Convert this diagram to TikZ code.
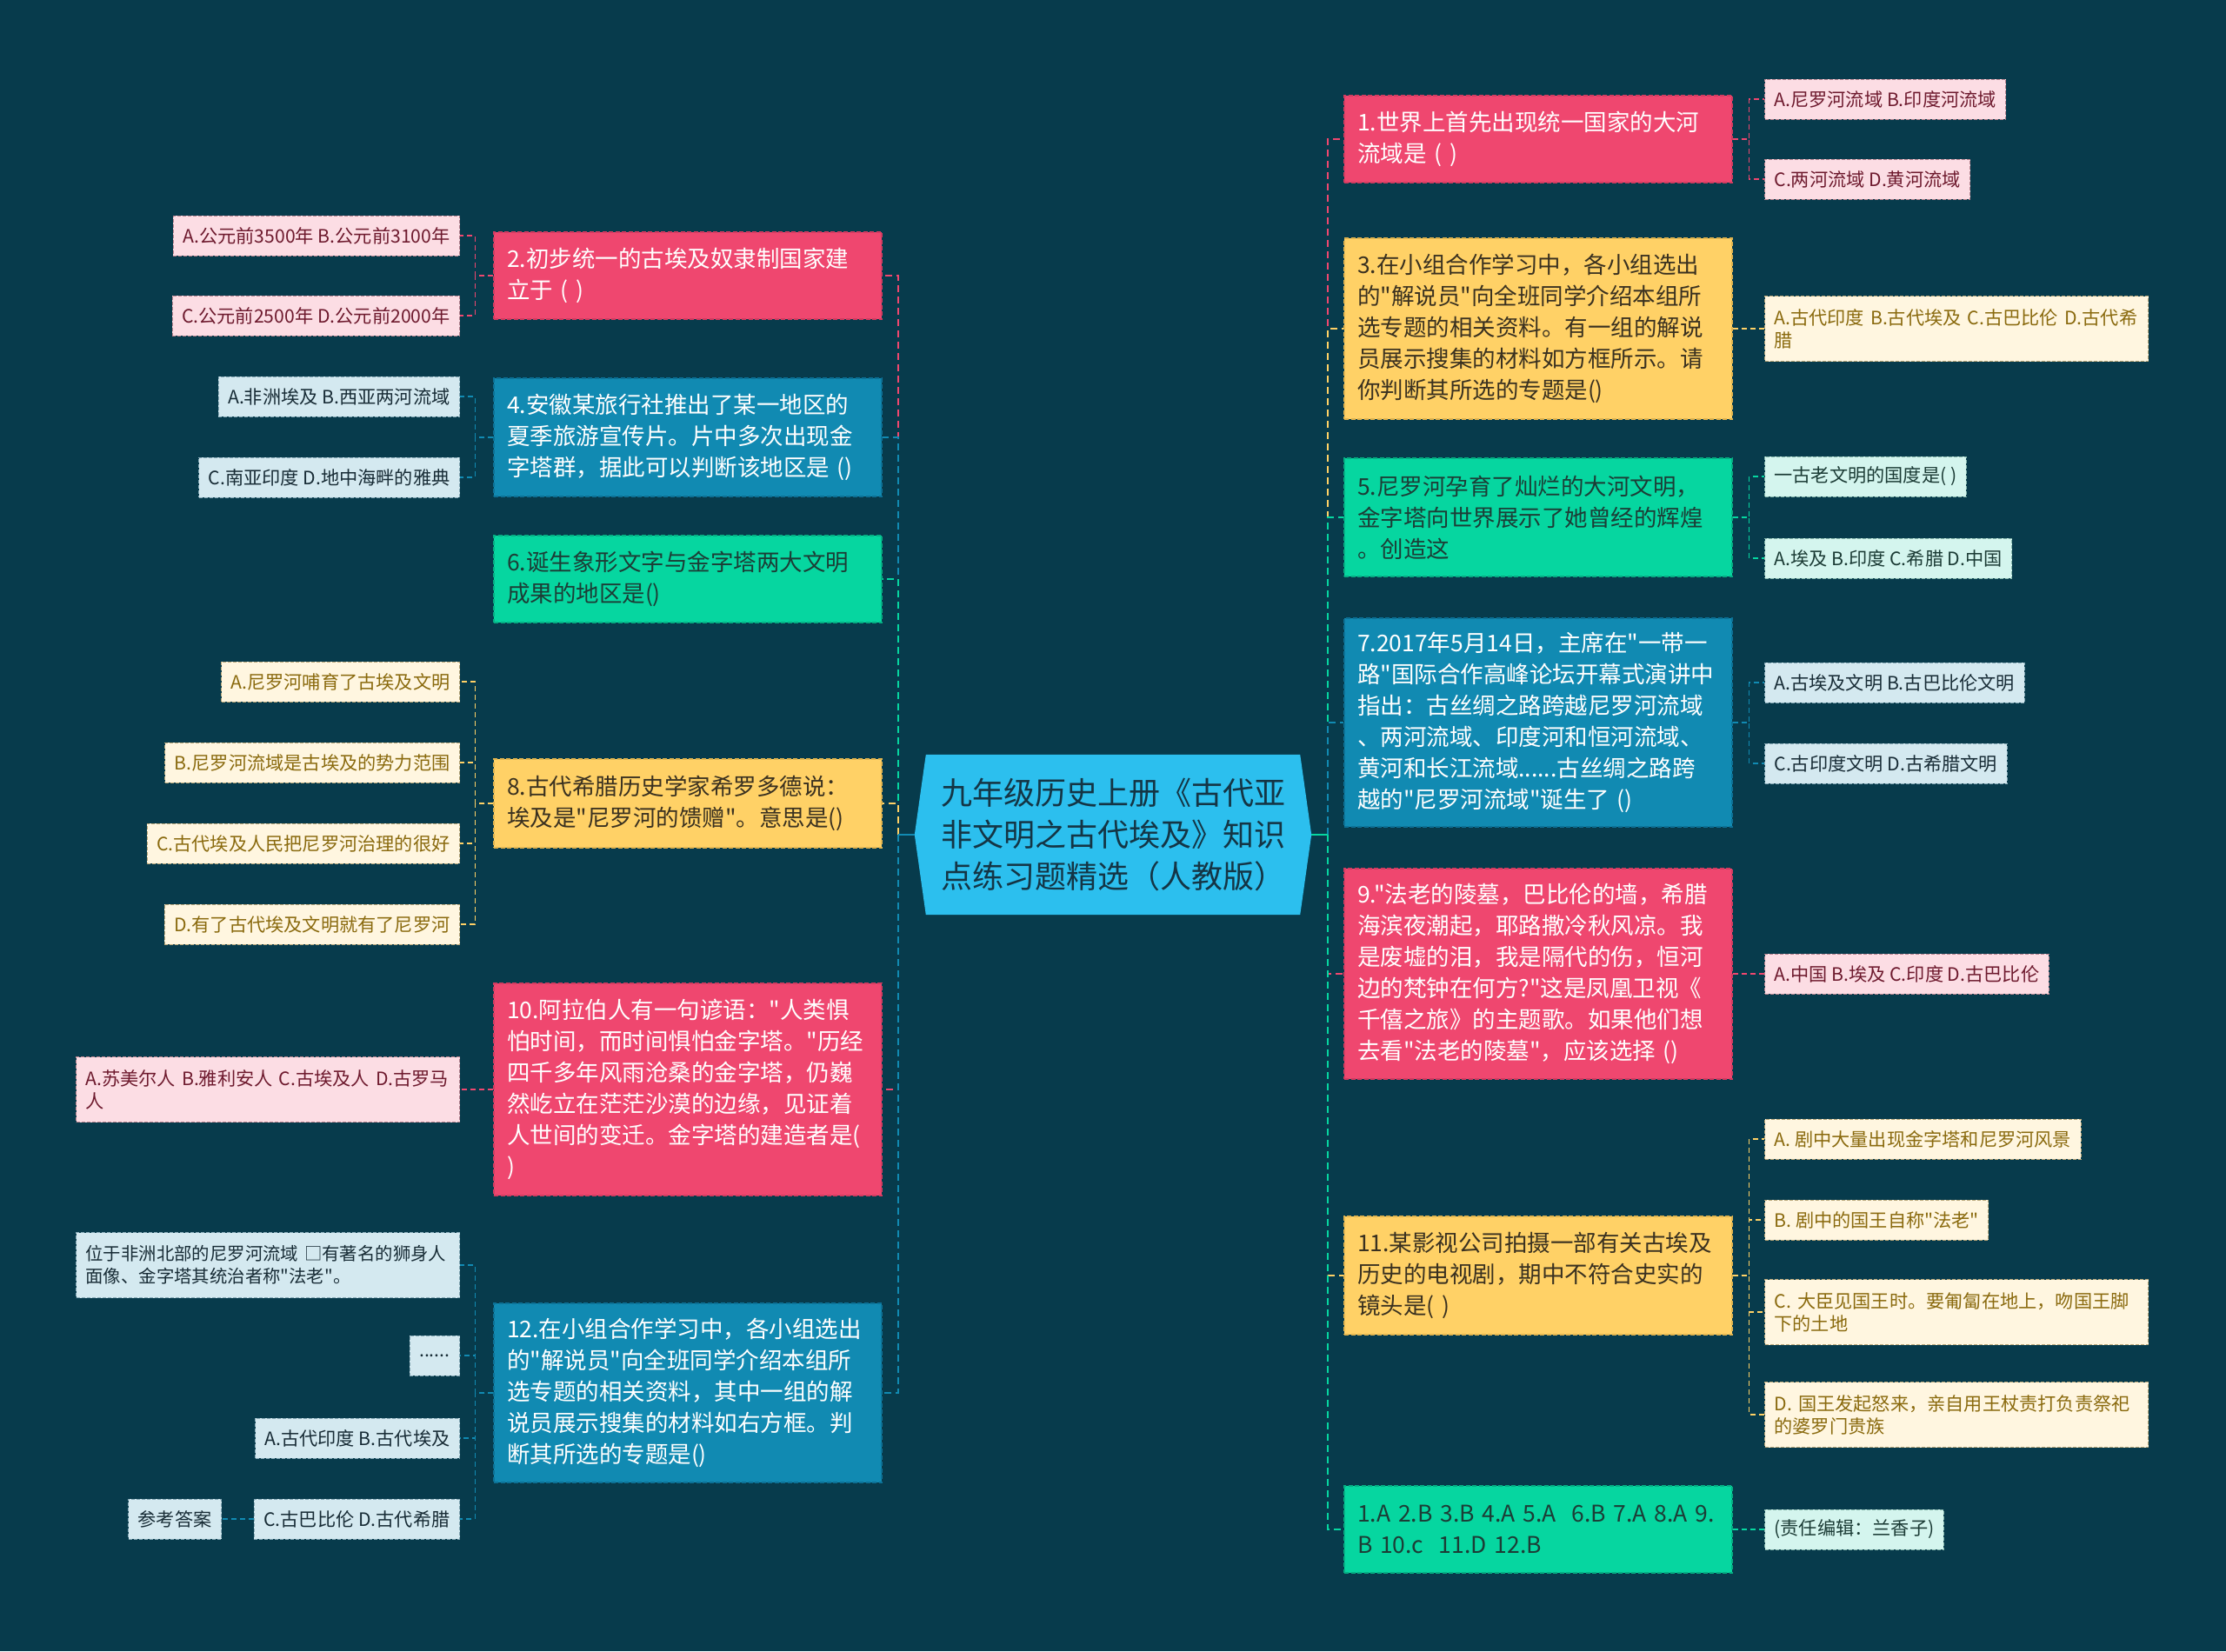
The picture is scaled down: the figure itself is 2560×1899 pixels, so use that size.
\documentclass[tikz,border=0pt]{standalone}
\usepackage{fontspec}
\usepackage{tikz}
\newfontfamily\cjk{Noto Sans CJK SC}
\pgfdeclarelayer{bglayer}
\pgfdeclarelayer{edgelayer}
\pgfdeclarelayer{nodelayer}
\pgfsetlayers{bglayer,edgelayer,nodelayer,main}
\definecolor{bgc}{HTML}{073B4C}
\definecolor{pinkc}{HTML}{EF476F}
\definecolor{pinkd}{HTML}{D23B60}
\definecolor{yellowc}{HTML}{FFD166}
\definecolor{yellowd}{HTML}{E0B44F}
\definecolor{yellowt}{HTML}{3A3120}
\definecolor{greenc}{HTML}{06D6A0}
\definecolor{greend}{HTML}{05AE83}
\definecolor{greent}{HTML}{1C3D36}
\definecolor{bluec}{HTML}{118AB2}
\definecolor{blued}{HTML}{0C7196}
\definecolor{rootc}{HTML}{2CBFEE}
\definecolor{roott}{HTML}{143545}
\definecolor{pinkf}{HTML}{FCDDE4}
\definecolor{pinkb}{HTML}{B98490}
\definecolor{pinkt}{HTML}{6E1A2E}
\definecolor{creamf}{HTML}{FFF6E0}
\definecolor{creamb}{HTML}{B8A678}
\definecolor{creamt}{HTML}{8A6A0E}
\definecolor{mintf}{HTML}{D4F5EE}
\definecolor{mintb}{HTML}{84B5AA}
\definecolor{mintt}{HTML}{1B3B35}
\definecolor{skyf}{HTML}{D4E9F0}
\definecolor{skyb}{HTML}{86A9B6}
\definecolor{skyt}{HTML}{182C36}
\tikzstyle{root}=[rectangle, minimum width=456pt, minimum height=184pt, text width=400pt, align=center, inner sep=0pt, text=roott, font=\cjk\fontsize{36}{48}\selectfont]
\tikzstyle{qbox}=[rectangle, inner xsep=15pt, inner ysep=0pt, text width=416pt, align=left, line width=1.2pt, dash pattern=on 5pt off 2.5pt, font=\cjk\fontsize{26.5}{36}\selectfont]
\tikzstyle{pinkq}=[qbox, fill=pinkc, draw=pinkd, text=white]
\tikzstyle{yellowq}=[qbox, fill=yellowc, draw=yellowd, text=yellowt]
\tikzstyle{greenq}=[qbox, fill=greenc, draw=greend, text=greent]
\tikzstyle{blueq}=[qbox, fill=bluec, draw=blued, text=white]
\tikzstyle{leaf}=[rectangle, inner xsep=11pt, inner ysep=0pt, minimum height=46pt, line width=1pt, dash pattern=on 4pt off 2pt, font=\cjk\fontsize{21.2}{26}\selectfont]
\tikzstyle{wide}=[text width=419pt, align=left, minimum height=75pt]
\tikzstyle{pinkl}=[leaf, fill=pinkf, draw=pinkb, text=pinkt]
\tikzstyle{creaml}=[leaf, fill=creamf, draw=creamb, text=creamt]
\tikzstyle{mintl}=[leaf, fill=mintf, draw=mintb, text=mintt]
\tikzstyle{skyl}=[leaf, fill=skyf, draw=skyb, text=skyt]
\tikzstyle{stem}=[line width=2.5pt]
\tikzstyle{trunk}=[line width=2.5pt, dash pattern=on 8pt off 5pt]
\tikzstyle{twig}=[line width=1.6pt, dash pattern=on 6pt off 4pt]

\begin{document}
\begin{tikzpicture}[x=1pt, y=-1pt]
	\useasboundingbox (0,0) rectangle (2560,1899);
	\begin{pgfonlayer}{nodelayer}
		\node [style=root] (0) at (1280,960) {九年级历史上册《古代亚\\非文明之古代埃及》知识\\点练习题精选（人教版）};
		\coordinate (lhub) at (1033,960);
		\coordinate (rhub) at (1527,960);
		% right questions
		\node [style=pinkq, minimum height=100] (1) at (1769,160) {1.世界上首先出现统一国家的大河\\流域是 ( )};
		\node [style=yellowq, minimum height=208] (3) at (1769,378) {3.在小组合作学习中，各小组选出\\的"解说员"向全班同学介绍本组所\\选专题的相关资料。有一组的解说\\员展示搜集的材料如方框所示。请\\你判断其所选的专题是()};
		\node [style=greenq, minimum height=136] (5) at (1769,595) {5.尼罗河孕育了灿烂的大河文明，\\金字塔向世界展示了她曾经的辉煌\\。创造这};
		\node [style=blueq, minimum height=240] (7) at (1769,831) {7.2017年5月14日，主席在"一带一\\路"国际合作高峰论坛开幕式演讲中\\指出：古丝绸之路跨越尼罗河流域\\、两河流域、印度河和恒河流域、\\黄河和长江流域......古丝绸之路跨\\越的"尼罗河流域"诞生了 ()};
		\node [style=pinkq, minimum height=242] (9) at (1769,1120) {9."法老的陵墓，巴比伦的墙，希腊\\海滨夜潮起，耶路撒冷秋风凉。我\\是废墟的泪，我是隔代的伤，恒河\\边的梵钟在何方?"这是凤凰卫视《\\千僖之旅》的主题歌。如果他们想\\去看"法老的陵墓"，应该选择 ()};
		\node [style=yellowq, minimum height=136] (11) at (1769,1467) {11.某影视公司拍摄一部有关古埃及\\历史的电视剧，期中不符合史实的\\镜头是( )};
		\node [style=greenq, minimum height=100] (13) at (1769,1759) {1.A 2.B 3.B 4.A 5.A~ 6.B 7.A 8.A 9.\\B 10.c~ 11.D 12.B};
		% left questions
		\node [style=pinkq, minimum height=100] (2) at (791,317) {2.初步统一的古埃及奴隶制国家建\\立于 ( )};
		\node [style=blueq, minimum height=136] (4) at (791,503) {4.安徽某旅行社推出了某一地区的\\夏季旅游宣传片。片中多次出现金\\字塔群，据此可以判断该地区是 ()};
		\node [style=greenq, minimum height=100] (6) at (791,666) {6.诞生象形文字与金字塔两大文明\\成果的地区是()};
		\node [style=yellowq, minimum height=102] (8) at (791,924) {8.古代希腊历史学家希罗多德说：\\埃及是"尼罗河的馈赠"。意思是()};
		\node [style=pinkq, minimum height=244] (10) at (791,1253) {10.阿拉伯人有一句谚语："人类惧\\怕时间，而时间惧怕金字塔。"历经\\四千多年风雨沧桑的金字塔，仍巍\\然屹立在茫茫沙漠的边缘，见证着\\人世间的变迁。金字塔的建造者是(\\)};
		\node [style=blueq, minimum height=206] (12) at (791,1602) {12.在小组合作学习中，各小组选出\\的"解说员"向全班同学介绍本组所\\选专题的相关资料，其中一组的解\\说员展示搜集的材料如右方框。判\\断其所选的专题是()};
		% right answers
		\node [style=pinkl, anchor=west] (1a) at (2029,114) {A.尼罗河流域 B.印度河流域};
		\node [style=pinkl, anchor=west] (1b) at (2029,206) {C.两河流域 D.黄河流域};
		\node [style=creaml, style=wide, anchor=west] (3a) at (2029,378) {A.古代印度 B.古代埃及 C.古巴比伦 D.古代希\\腊};
		\node [style=mintl, anchor=west] (5a) at (2029,548) {一古老文明的国度是( )};
		\node [style=mintl, anchor=west] (5b) at (2029,642) {A.埃及 B.印度 C.希腊 D.中国};
		\node [style=skyl, anchor=west] (7a) at (2029,785) {A.古埃及文明 B.古巴比伦文明};
		\node [style=skyl, anchor=west] (7b) at (2029,878) {C.古印度文明 D.古希腊文明};
		\node [style=pinkl, anchor=west] (9a) at (2029,1120) {A.中国 B.埃及 C.印度 D.古巴比伦};
		\node [style=creaml, anchor=west] (11a) at (2029,1310) {A. 剧中大量出现金字塔和尼罗河风景};
		\node [style=creaml, anchor=west] (11b) at (2029,1403) {B. 剧中的国王自称"法老"};
		\node [style=creaml, style=wide, anchor=west] (11c) at (2029,1509) {C. 大臣见国王时。要匍匐在地上，吻国王脚\\下的土地};
		\node [style=creaml, style=wide, anchor=west] (11d) at (2029,1627) {D. 国王发起怒来，亲自用王杖责打负责祭祀\\的婆罗门贵族};
		\node [style=mintl, anchor=west] (13a) at (2029,1759) {(责任编辑：兰香子)};
		% left answers
		\node [style=pinkl, anchor=east] (2a) at (529,271) {A.公元前3500年 B.公元前3100年};
		\node [style=pinkl, anchor=east] (2b) at (529,363) {C.公元前2500年 D.公元前2000年};
		\node [style=skyl, anchor=east] (4a) at (529,456) {A.非洲埃及 B.西亚两河流域};
		\node [style=skyl, anchor=east] (4b) at (529,549) {C.南亚印度 D.地中海畔的雅典};
		\node [style=creaml, anchor=east] (8a) at (529,784) {A.尼罗河哺育了古埃及文明};
		\node [style=creaml, anchor=east] (8b) at (529,877) {B.尼罗河流域是古埃及的势力范围};
		\node [style=creaml, anchor=east] (8c) at (529,970) {C.古代埃及人民把尼罗河治理的很好};
		\node [style=creaml, anchor=east] (8d) at (529,1063) {D.有了古代埃及文明就有了尼罗河};
		\node [style=pinkl, style=wide, anchor=east] (10a) at (529,1253) {A.苏美尔人 B.雅利安人 C.古埃及人 D.古罗马\\人};
		\node [style=skyl, style=wide, anchor=east, font=\cjk\fontsize{20.4}{26}\selectfont] (12a) at (529,1455) {位于非洲北部的尼罗河流域~□有著名的狮身人\\面像、金字塔其统治者称"法老"。};
		\node [style=skyl, anchor=east] (12b) at (529,1559) {......};
		\node [style=skyl, anchor=east] (12c) at (529,1654) {A.古代印度 B.古代埃及};
		\node [style=skyl, anchor=east] (12d) at (529,1747) {C.古巴比伦 D.古代希腊};
		\node [style=skyl, anchor=east] (12e) at (255,1747) {参考答案};
	\end{pgfonlayer}
	\begin{pgfonlayer}{bglayer}
		\fill [bgc] (0,0) rectangle (2560,1899);
		\fill [rootc] (0.west) -- ([xshift=13]0.north west) -- ([xshift=-13]0.north east) -- (0.east) -- ([xshift=-13]0.south east) -- ([xshift=13]0.south west) -- cycle;
	\end{pgfonlayer}
	\begin{pgfonlayer}{edgelayer}
		% left branches
		\draw [style=trunk, pinkc] (lhub) |- (2.east);
		\draw [style=trunk, bluec] (lhub) |- (4.east);
		\draw [style=trunk, greenc] (lhub) |- (6.east);
		\draw [style=trunk, yellowc] (lhub) |- (8.east);
		\draw [style=trunk, pinkc] (lhub) |- (10.east);
		\draw [style=trunk, bluec] (lhub) |- (12.east);
		\draw [style=stem, bluec] (0.west) to (lhub);
		% right branches
		\draw [style=trunk, pinkc] (rhub) |- (1.west);
		\draw [style=trunk, yellowc] (rhub) |- (3.west);
		\draw [style=trunk, greenc] (rhub) |- (5.west);
		\draw [style=trunk, bluec] (rhub) |- (7.west);
		\draw [style=trunk, pinkc] (rhub) |- (9.west);
		\draw [style=trunk, yellowc] (rhub) |- (11.west);
		\draw [style=trunk, greenc] (rhub) |- (13.west);
		\draw [style=stem, greenc] (0.east) to (rhub);
		% right twigs
		\draw [style=twig, pinkc] (1.east) -- ++(19,0) |- (1a.west);
		\draw [style=twig, pinkc] (1.east) -- ++(19,0) |- (1b.west);
		\draw [style=twig, yellowc] (3.east) to (3a.west);
		\draw [style=twig, greenc] (5.east) -- ++(19,0) |- (5a.west);
		\draw [style=twig, greenc] (5.east) -- ++(19,0) |- (5b.west);
		\draw [style=twig, bluec] (7.east) -- ++(19,0) |- (7a.west);
		\draw [style=twig, bluec] (7.east) -- ++(19,0) |- (7b.west);
		\draw [style=twig, pinkc] (9.east) to (9a.west);
		\draw [style=twig, yellowc] (11.east) -- ++(19,0) |- (11a.west);
		\draw [style=twig, yellowc] (11.east) -- ++(19,0) |- (11b.west);
		\draw [style=twig, yellowc] (11.east) -- ++(19,0) |- (11c.west);
		\draw [style=twig, yellowc] (11.east) -- ++(19,0) |- (11d.west);
		\draw [style=twig, greenc] (13.east) to (13a.west);
		% left twigs
		\draw [style=twig, pinkc] (2.west) -- ++(-21,0) |- (2a.east);
		\draw [style=twig, pinkc] (2.west) -- ++(-21,0) |- (2b.east);
		\draw [style=twig, bluec] (4.west) -- ++(-21,0) |- (4a.east);
		\draw [style=twig, bluec] (4.west) -- ++(-21,0) |- (4b.east);
		\draw [style=twig, yellowc] (8.west) -- ++(-21,0) |- (8a.east);
		\draw [style=twig, yellowc] (8.west) -- ++(-21,0) |- (8b.east);
		\draw [style=twig, yellowc] (8.west) -- ++(-21,0) |- (8c.east);
		\draw [style=twig, yellowc] (8.west) -- ++(-21,0) |- (8d.east);
		\draw [style=twig, pinkc] (10.west) to (10a.east);
		\draw [style=twig, bluec] (12.west) -- ++(-21,0) |- (12a.east);
		\draw [style=twig, bluec] (12.west) -- ++(-21,0) |- (12b.east);
		\draw [style=twig, bluec] (12.west) -- ++(-21,0) |- (12c.east);
		\draw [style=twig, bluec] (12.west) -- ++(-21,0) |- (12d.east);
		\draw [style=twig, bluec] (12d.west) to (12e.east);
	\end{pgfonlayer}
\end{tikzpicture}
\end{document}
